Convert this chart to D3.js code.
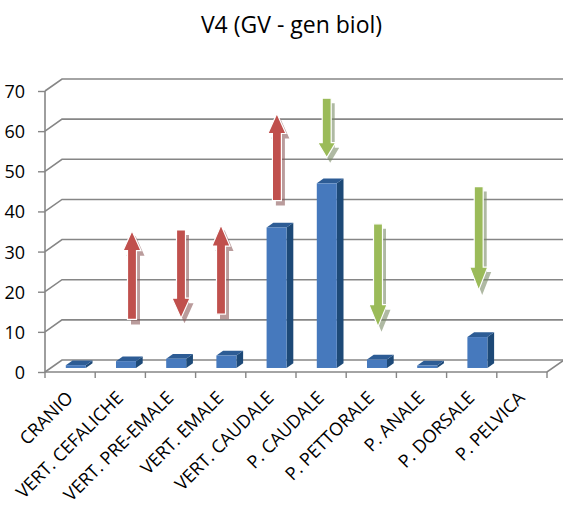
<!DOCTYPE html>
<html>
<head>
<meta charset="utf-8">
<script src="https://cdn.jsdelivr.net/npm/d3@7"></script>
<style>
  html, body { margin: 0; padding: 0; background: #fff; }
  svg { display: block; font-family: "Open Sans", "Noto Sans", sans-serif; }
</style>
</head>
<body>
<svg id="chart" width="563" height="505"></svg>
<script>
// ---- data ----
const categories = ["CRANIO", "VERT. CEFALICHE", "VERT. PRE-EMALE", "VERT. EMALE", "VERT. CAUDALE",
                    "P. CAUDALE", "P. PETTORALE", "P. ANALE", "P. DORSALE", "P. PELVICA"];
const values = [0.7, 1.7, 2.3, 3.1, 35, 46, 2.1, 0.6, 7.7, 0];
const yTicks = [0, 10, 20, 30, 40, 50, 60, 70];

// annotation arrows (start value -> end value on the value axis)
const arrowCats = ["VERT. CEFALICHE", "VERT. PRE-EMALE", "VERT. EMALE", "VERT. CAUDALE",
                   "P. CAUDALE", "P. PETTORALE", "P. DORSALE"];
const arrowFrom = [13.1, 35.4, 14.4, 42.7, 68.2, 36.9, 46.2];
const arrowTo   = [35.2, 13.4, 36.6, 64.4, 53.4, 11.3, 20.4];
const arrowTone = ["red", "red", "red", "red", "green", "green", "green"];

const title = "V4 (GV - gen biol)";

// ---- layout ----
const svg = d3.select("#chart");
const plotLeft = 45, plotRight = 547, plotBottom = 372, plotTop = 91;
const DX = 17, DY = -12;           // depth offset of the back wall
const z0 = 0.335, z1 = 0.73;       // bar depth span (fraction of depth)
const barW = 20;

const x = d3.scaleBand().domain(categories).range([plotLeft, plotRight]).paddingInner(0).paddingOuter(0);
const y = d3.scaleLinear().domain([0, 70]).range([plotBottom, plotTop]);

const arrowShift = [11.7, 10.5, 0.3, 6, 5.6, 6.7, 7];
const arrowHead  = [20, 20, 21, 20, 15, 22, 23];
const toneFill   = { red: "#C0504D", green: "#9BBB59" };
const toneShadow = { red: "#8c5a5a", green: "#7a8a66" };

const gridColor = "#868686";

// title
svg.append("text")
  .attr("x", 291.5).attr("y", 32.5)
  .attr("text-anchor", "middle")
  .attr("font-size", 23)
  .attr("fill", "#000")
  .text(title);

// back wall gridlines with left-wall diagonals
const grid = svg.append("g").attr("stroke", gridColor).attr("stroke-width", 1.6).attr("fill", "none");
yTicks.forEach(t => {
  const yf = y(t);
  grid.append("path").attr("d", `M${plotLeft},${yf}L${plotLeft + DX},${yf + DY}L${plotRight + DX + 2},${yf + DY}`);
});
// floor outline
grid.append("path").attr("d", `M${plotLeft},${plotBottom}L${plotRight},${plotBottom}L${plotRight + DX},${plotBottom + DY}`);
// vertical value axis
grid.append("path").attr("d", `M${plotLeft},${plotTop}L${plotLeft},${plotBottom}`);

// value axis ticks and labels
const yAxis = d3.axisLeft(y).tickValues(yTicks).tickSize(7).tickPadding(13).tickFormat(d3.format("d"));
const gy = svg.append("g").attr("transform", `translate(${plotLeft},0)`).call(yAxis);
gy.select(".domain").remove();
gy.selectAll(".tick line").attr("stroke", gridColor).attr("stroke-width", 1.4);
gy.selectAll(".tick text").attr("font-size", 18).attr("font-family", "Open Sans, sans-serif")
  .attr("fill", "#000").attr("dy", "0.36em");

// category ticks on the floor edge
const boundaries = categories.map(c => x(c)).concat([plotRight]);
svg.append("g").attr("stroke", gridColor).attr("stroke-width", 1.4)
  .selectAll("line").data(boundaries).join("line")
  .attr("x1", d => d).attr("x2", d => d)
  .attr("y1", plotBottom).attr("y2", plotBottom + 6);

// category labels, rotated
const bw = x.bandwidth();
svg.append("g").selectAll("text").data(categories).join("text")
  .attr("transform", d => `translate(${x(d) + bw / 2 + 4},${plotBottom + 27}) rotate(-45)`)
  .attr("text-anchor", "end")
  .attr("font-size", 18)
  .attr("fill", "#000")
  .text(d => d);

// 3D columns
const bars = svg.append("g");
categories.forEach((c, i) => {
  const v = values[i];
  if (v <= 0) return;
  const cx = x(c) + bw / 2;
  const fx0 = cx + DX * z0 - barW / 2, fx1 = fx0 + barW;
  const fy0 = y(0) + DY * z0, fy1 = y(v) + DY * z0;
  const ddx = DX * (z1 - z0), ddy = DY * (z1 - z0);
  // side face
  bars.append("path")
    .attr("d", `M${fx1},${fy0}L${fx1 + ddx},${fy0 + ddy}L${fx1 + ddx},${fy1 + ddy}L${fx1},${fy1}Z`)
    .attr("fill", "#1D4977");
  // top face
  bars.append("path")
    .attr("d", `M${fx0},${fy1}L${fx1},${fy1}L${fx1 + ddx},${fy1 + ddy}L${fx0 + ddx},${fy1 + ddy}Z`)
    .attr("fill", "#2D5C95");
  // front face
  bars.append("rect")
    .attr("x", fx0).attr("y", fy1).attr("width", barW).attr("height", fy0 - fy1)
    .attr("fill", "#4679BD");
});

// annotation arrows
function arrowPath(cx, tailY, tipY, head) {
  const hw = 9, sw = 4.5;
  const d = tipY < tailY ? 1 : -1;   // 1: pointing up
  const hb = tipY + head * d;
  return `M${cx},${tipY}L${cx + hw},${hb}L${cx + sw},${hb}L${cx + sw},${tailY}` +
         `L${cx - sw},${tailY}L${cx - sw},${hb}L${cx - hw},${hb}Z`;
}
const arrows = svg.append("g");
arrowCats.forEach((c, i) => {
  const cx = x(c) + bw / 2 + arrowShift[i];
  const p = arrowPath(cx, y(arrowFrom[i]), y(arrowTo[i]), arrowHead[i]);
  arrows.append("path").attr("d", p)
    .attr("transform", "translate(3.5,5)")
    .attr("fill", toneShadow[arrowTone[i]]).attr("opacity", 0.6);
  arrows.append("path").attr("d", p)
    .attr("fill", toneFill[arrowTone[i]])
    .attr("stroke", "#fff").attr("stroke-width", 1.2).attr("stroke-linejoin", "miter");
});
</script>
</body>
</html>
